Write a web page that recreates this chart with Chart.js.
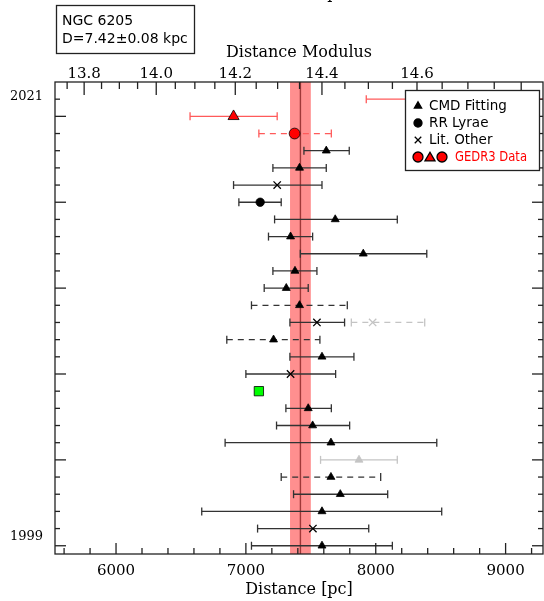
<!DOCTYPE html>
<html>
<head>
<meta charset="utf-8">
<script src="https://cdn.jsdelivr.net/npm/chart.js@4.4.1/dist/chart.umd.min.js"></script>
<style>
  html, body { margin: 0; padding: 0; background: #fff; }
  canvas { display: block; }
</style>
</head>
<body>
<canvas id="chart" width="544" height="601"></canvas>
<script>
// NGC 6205 distance compilation, one row per entry (newest at the top)
const clusterDist = 7420;
const clusterErr  = 80;

const methods = ['gaiaC', 'gaiaT', 'gaiaC', 'cmd', 'cmd', 'lit', 'rr', 'cmd', 'cmd', 'cmd',
                 'cmd', 'cmd', 'cmd', 'lit', 'cmd', 'cmd', 'lit', 'other', 'cmd', 'cmd',
                 'cmd', 'cmd', 'cmd', 'cmd', 'cmd', 'lit', 'cmd'];
const dist   = [9700, 6905, 7375, 7619, 7413, 7241, 7110, 7688, 7344, 7904,
                7378, 7311, 7413, 7547, 7213, 7586, 7344, 7100, 7480, 7514,
                7655, 7871, 7655, 7727, 7586, 7516, 7586];
const distLo = [7927, 6570, 7100, 7447, 7208, 6905, 6946, 7221, 7174, 7419,
                7208, 7141, 7043, 7339, 6853, 7339, 7000, null, 7308, 7236,
                6840, 7575, 7272, 7367, 6660, 7090, 7043];
const distHi = [11470, 7241, 7658, 7796, 7619, 7586, 7272, 8166, 7514, 8393,
                7547, 7480, 7781, 7760, 7570, 7832, 7691, null, 7658, 7799,
                8470, 8166, 8038, 8092, 8508, 7946, 8128];
const dashedRows = [2, 12, 14, 22];
const fadedRows  = [21];

// second (greyed) value sharing row 13
const extraRows   = [13];
const extraMethod = ['lit'];
const extraDist   = [7976];
const extraLo     = [7812];
const extraHi     = [8377];

const xTicks     = [6000, 7000, 8000, 9000];
const modTicks   = [13.8, 14.0, 14.2, 14.4, 14.6];
const yearLabels = ['2021', '1999'];
const yearRows   = [-0.17, 25.46];

const X_MIN = 5530, X_MAX = 9288;
const Y_MIN = -1, Y_MAX = 26.48;

const toModulus   = d => 5 * Math.log10(d) - 5;
const fromModulus = m => Math.pow(10, (m + 5) / 5);

const SYM = {
  cmd:   { style: 'triangle', r: 4.6, fill: '#000',    edge: '#000' },
  rr:    { style: 'circle',   r: 4.2, fill: '#000',    edge: '#000' },
  lit:   { style: 'crossRot', r: 5.2, fill: '#000',    edge: '#000' },
  other: { style: 'rect',     r: 6.6, fill: '#00ff00', edge: '#000' },
  gaiaC: { style: 'circle',   r: 5.4, fill: '#ff0000', edge: '#000' },
  gaiaT: { style: 'triangle', r: 6.4, fill: '#ff0000', edge: '#000' }
};
const FADED = '#c4c4c4';

function errBar(y, lo, hi, color, dashed) {
  return {
    data: [{ x: lo, y }, { x: hi, y }],
    showLine: true, borderColor: color, borderWidth: 1.3,
    borderDash: dashed ? [6, 5] : [],
    pointStyle: 'line', pointRotation: 90, pointRadius: 4, pointHoverRadius: 4,
    pointBorderColor: color, pointBorderWidth: 1.3, order: 5
  };
}

function marker(y, x, kind, faded) {
  const s = SYM[kind];
  return {
    data: [{ x, y }],
    pointStyle: s.style, pointRadius: s.r, pointHoverRadius: s.r,
    pointBackgroundColor: faded ? FADED : s.fill,
    pointBorderColor: faded ? FADED : s.edge,
    pointBorderWidth: kind === 'lit' ? 1.3 : 0.8, order: 0
  };
}

const datasets = [];
const bLo = clusterDist - clusterErr, bHi = clusterDist + clusterErr;
datasets.push({
  data: [{ x: bLo, y: Y_MIN }, { x: bLo, y: Y_MAX }, { x: bHi, y: Y_MAX }, { x: bHi, y: Y_MIN }],
  showLine: true, fill: 'shape', backgroundColor: '#ff8f8f', borderWidth: 0,
  pointRadius: 0, order: 20
});
datasets.push({
  data: [{ x: clusterDist, y: Y_MIN }, { x: clusterDist, y: Y_MAX }],
  showLine: true, borderColor: '#a03838', borderWidth: 1.4, pointRadius: 0, order: 19
});

methods.forEach((m, i) => {
  const faded = fadedRows.includes(i);
  const gaia = m.startsWith('gaia');
  if (distLo[i] != null) {
    const col = faded ? FADED : gaia ? '#ff5a5a' : '#333';
    datasets.push(errBar(i, distLo[i], distHi[i], col, dashedRows.includes(i)));
  }
  datasets.push(marker(i, dist[i], m, faded));
});
extraRows.forEach((r, k) => {
  datasets.push(errBar(r, extraLo[k], extraHi[k], FADED, true));
  datasets.push(marker(r, extraDist[k], extraMethod[k], true));
});

const serif = 'DejaVu Serif';
const sans  = 'DejaVu Sans';

const frameTicks = {
  id: 'frameTicks',
  afterDatasetsDraw(chart) {
    const { ctx, chartArea: a } = chart;
    const sx = chart.scales.x, sy = chart.scales.y;
    const seg = (x1, y1, x2, y2) => { ctx.beginPath(); ctx.moveTo(x1, y1); ctx.lineTo(x2, y2); ctx.stroke(); };
    ctx.save();
    ctx.strokeStyle = '#222';
    ctx.lineWidth = 1.3;
    for (let d = 5600; d <= X_MAX; d += 200) {
      const x = sx.getPixelForValue(d);
      seg(x, a.bottom, x, a.bottom - (d % 1000 === 0 ? 11 : 6));
    }
    const k0 = Math.ceil(toModulus(X_MIN) * 20), k1 = Math.floor(toModulus(X_MAX) * 20);
    for (let k = k0; k <= k1; k++) {
      const x = sx.getPixelForValue(fromModulus(k / 20));
      seg(x, a.top, x, a.top + (k % 4 === 0 ? 13 : 7));
    }
    for (let r = 0; r < methods.length; r++) {
      const y = sy.getPixelForValue(r);
      const len = r % 5 === 1 ? 11 : 5;
      seg(a.left, y, a.left + len, y);
      seg(a.right, y, a.right - len, y);
    }
    ctx.strokeRect(a.left, a.top, a.right - a.left, a.bottom - a.top);
    ctx.restore();
  },
  afterDraw(chart) {
    const { ctx } = chart;
    const draw = (style, r, fill, x, y) => {
      ctx.fillStyle = fill;
      ctx.strokeStyle = '#000';
      Chart.helpers.drawPoint(ctx, { pointStyle: style, radius: r, rotation: 0, borderWidth: style === 'crossRot' ? 1.3 : 0.8 }, x, y);
    };
    ctx.save();
    // info box
    ctx.strokeStyle = '#222';
    ctx.lineWidth = 1.3;
    ctx.strokeRect(56.5, 5.5, 138, 48);
    ctx.fillStyle = '#000';
    ctx.font = `14px "${sans}"`;
    ctx.textBaseline = 'middle';
    ctx.textAlign = 'left';
    ctx.fillText('NGC 6205', 62, 21);
    ctx.fillText('D=7.42\u00b10.08 kpc', 62, 39);

    // cut-off axis title of the panel above
    ctx.font = `16px "${serif}"`;
    ctx.textAlign = 'center';
    ctx.fillText('Distance [pc]', 299, -6);

    // legend
    ctx.fillStyle = '#fff';
    ctx.fillRect(405.5, 90.5, 134, 80);
    ctx.strokeRect(405.5, 90.5, 134, 80);
    ctx.font = `13.5px "${sans}"`;
    ctx.textAlign = 'left';
    draw('triangle', 4.2, '#000', 418, 106);
    draw('circle', 4, '#000', 418, 123);
    draw('crossRot', 4.6, '#000', 418, 140);
    draw('circle', 5, '#ff0000', 418, 157);
    draw('triangle', 5.8, '#ff0000', 430, 158);
    draw('circle', 5, '#ff0000', 442, 157);
    ctx.fillStyle = '#000';
    ctx.fillText('CMD Fitting', 429, 106);
    ctx.fillText('RR Lyrae', 429, 123);
    ctx.fillText('Lit. Other', 429, 140);
    ctx.fillStyle = '#ff0000';
    ctx.fillText('GEDR3 Data', 455, 157, 72);
    ctx.restore();
  }
};

new Chart(document.getElementById('chart'), {
  type: 'scatter',
  data: { datasets },
  options: {
    responsive: false,
    animation: false,
    events: [],
    devicePixelRatio: 1,
    layout: { autoPadding: false, padding: { left: 0, right: 1, top: 0, bottom: 0 } },
    plugins: { legend: { display: false }, tooltip: { enabled: false } },
    scales: {
      x: {
        type: 'linear', position: 'bottom', min: X_MIN, max: X_MAX,
        afterBuildTicks: s => { s.ticks = xTicks.map(v => ({ value: v })); },
        afterFit: s => { s.height = 47; },
        ticks: { color: '#000', padding: 10, maxRotation: 0, autoSkip: false,
                 font: { family: serif, size: 15, lineHeight: 1 }, callback: v => String(v) },
        grid: { display: false, drawTicks: false }, border: { display: false },
        title: { display: true, text: 'Distance [pc]', color: '#000',
                 font: { family: serif, size: 16 }, padding: { top: 0, bottom: 1.5 } }
      },
      x2: {
        type: 'linear', axis: 'x', position: 'top', min: X_MIN, max: X_MAX,
        afterBuildTicks: s => { s.ticks = modTicks.map(m => ({ value: fromModulus(m) })); },
        afterFit: s => { s.height = 82; },
        ticks: { color: '#000', padding: 0, maxRotation: 0, autoSkip: false,
                 font: { family: serif, size: 15, lineHeight: 1 },
                 callback: (v, i) => modTicks[i].toFixed(1) },
        grid: { display: false, drawTicks: false }, border: { display: false },
        title: { display: true, text: 'Distance Modulus', color: '#000',
                 font: { family: serif, size: 16 }, padding: { top: 43, bottom: 0 } }
      },
      y: {
        type: 'linear', reverse: true, min: Y_MIN, max: Y_MAX,
        afterBuildTicks: s => { s.ticks = yearRows.map(v => ({ value: v })); },
        afterFit: s => { s.width = 55; },
        ticks: { color: '#000', padding: 12, autoSkip: false,
                 font: { family: serif, size: 13 }, callback: (v, i) => yearLabels[i] },
        grid: { display: false, drawTicks: false }, border: { display: false }
      }
    }
  },
  plugins: [frameTicks]
});
</script>
</body>
</html>
